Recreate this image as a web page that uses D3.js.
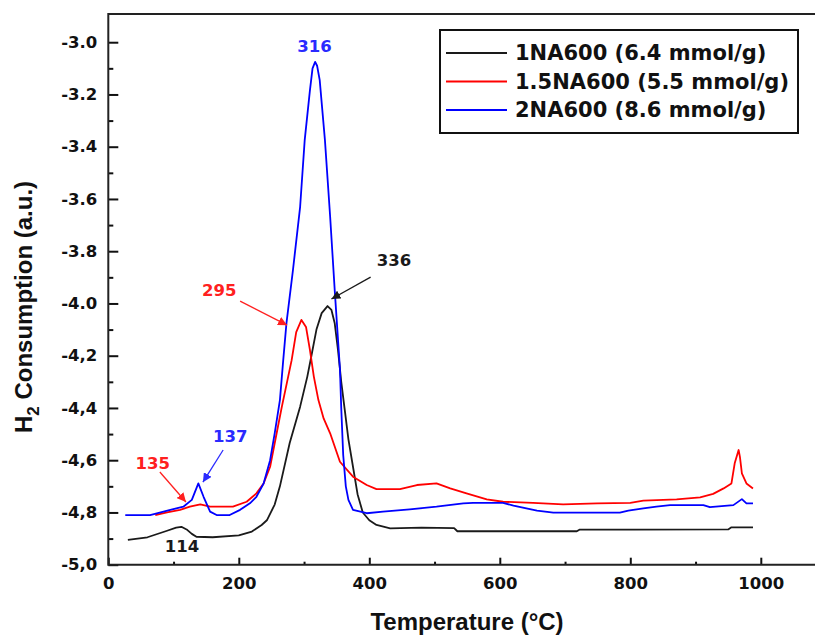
<!DOCTYPE html>
<html>
<head>
<meta charset="utf-8">
<script src="https://cdn.jsdelivr.net/npm/d3@7"></script>
<style>
  body { margin: 0; background: #fff; }
  svg { display: block; }
  .tick text { font-family: "DejaVu Sans", sans-serif; font-weight: bold; font-size: 16.5px; fill: #111; }
</style>
</head>
<body>
<svg id="chart" width="815" height="637"></svg>
<script>
// temperature (°C) / H2 consumption (a.u.)
const series1NA600 = [[30,-4.905],[60,-4.895],[89,-4.871],[104,-4.858],[112,-4.855],[120,-4.865],[128,-4.882],[135,-4.893],[160,-4.895],[200,-4.888],[220,-4.873],[235,-4.848],[243,-4.83],[255,-4.77],[263,-4.70],[278,-4.534],[294,-4.395],[305,-4.28],[311,-4.204],[319,-4.10],[327,-4.037],[336,-4.01],[342,-4.025],[347,-4.076],[352,-4.178],[357,-4.30],[362,-4.40],[368,-4.52],[375,-4.625],[382,-4.73],[390,-4.80],[400,-4.83],[411,-4.848],[432,-4.861],[480,-4.858],[530,-4.860],[535,-4.872],[600,-4.872],[718,-4.872],[722,-4.866],[800,-4.866],[950,-4.865],[955,-4.857],[988,-4.857]];

const series15NA600 = [[72,-4.81],[90,-4.80],[110,-4.79],[125,-4.778],[141,-4.769],[156,-4.778],[191,-4.778],[212,-4.759],[227,-4.727],[238,-4.689],[248,-4.625],[258,-4.497],[266,-4.395],[274,-4.30],[281,-4.217],[288,-4.11],[296,-4.063],[303,-4.09],[309,-4.178],[315,-4.28],[322,-4.37],[330,-4.44],[340,-4.497],[355,-4.606],[375,-4.663],[396,-4.695],[411,-4.711],[447,-4.711],[460,-4.703],[473,-4.695],[503,-4.689],[524,-4.708],[549,-4.727],[580,-4.75],[605,-4.759],[651,-4.763],[697,-4.769],[749,-4.765],[800,-4.763],[820,-4.755],[871,-4.75],[907,-4.742],[927,-4.729],[943,-4.708],[955,-4.689],[960,-4.612],[966,-4.561],[968,-4.587],[971,-4.65],[978,-4.689],[988,-4.708]];

const series2NA600 = [[26,-4.81],[64,-4.81],[95,-4.79],[115,-4.778],[128,-4.752],[138,-4.689],[146,-4.74],[156,-4.797],[166,-4.81],[186,-4.81],[202,-4.79],[217,-4.765],[227,-4.74],[238,-4.689],[248,-4.60],[255,-4.497],[263,-4.37],[268,-4.22],[273,-4.076],[283,-3.872],[294,-3.63],[301,-3.375],[309,-3.184],[313,-3.10],[317,-3.075],[320,-3.09],[324,-3.145],[332,-3.375],[340,-3.668],[347,-3.949],[351,-4.10],[355,-4.25],[357,-4.40],[360,-4.58],[364,-4.70],[368,-4.752],[375,-4.79],[396,-4.803],[421,-4.797],[462,-4.788],[503,-4.778],[544,-4.765],[559,-4.763],[605,-4.763],[621,-4.774],[657,-4.793],[682,-4.801],[784,-4.801],[797,-4.793],[820,-4.784],[840,-4.778],[861,-4.772],[912,-4.772],[922,-4.78],[958,-4.772],[971,-4.749],[978,-4.765],[988,-4.765]];

const seriesNames = ["1NA600 (6.4 mmol/g)", "1.5NA600 (5.5 mmol/g)", "2NA600 (8.6 mmol/g)"];
const seriesColors = ["#1a1a1a", "#ff0000", "#0000ff"];

const xTicks = [0, 200, 400, 600, 800, 1000];
const xMinor = [100, 300, 500, 700, 900];
const yTicks = [-3.0, -3.2, -3.4, -3.6, -3.8, -4.0, -4.2, -4.4, -4.6, -4.8, -5.0];
const yTickLabels = ["-3.0", "-3.2", "-3.4", "-3.6", "-3.8", "-4.0", "-4,2", "-4,4", "-4,6", "-4,8", "-5,0"];
const yMinor = [-3.1, -3.3, -3.5, -3.7, -3.9, -4.1, -4.3, -4.5, -4.7, -4.9];

// peak labels: text, label position, arrow start, arrow end (data units)
const peakLabels = [
  { text: "316", color: "#2a2aff", at: [316, -3.018] },
  { text: "336", color: "#1a1a1a", at: [438, -3.834], from: [402, -3.899], to: [342, -3.983] },
  { text: "295", color: "#ff2020", at: [170, -3.949], from: [202, -3.991], to: [274, -4.083] },
  { text: "135", color: "#ff2020", at: [68, -4.611], from: [79, -4.645], to: [119, -4.76] },
  { text: "137", color: "#2a2aff", at: [187, -4.511], from: [176, -4.561], to: [145, -4.684] },
  { text: "114", color: "#1a1a1a", at: [113, -4.932] }
];

const svg = d3.select("#chart");
const x = d3.scaleLinear().domain([0, 1080]).range([108.3, 813]);
const y = d3.scaleLinear().domain([-5, -2.892]).range([564.7, 14]);

// minor ticks
svg.append("g")
  .attr("transform", "translate(108.3,0)")
  .call(d3.axisLeft(y).tickValues(yMinor).tickSize(-5).tickFormat(""))
  .call(g => g.select(".domain").remove());
svg.append("g")
  .attr("transform", "translate(0,564.7)")
  .call(d3.axisBottom(x).tickValues(xMinor).tickSize(-3).tickFormat(""))
  .call(g => g.select(".domain").remove());

// major ticks
svg.append("g")
  .attr("transform", "translate(108.3,0)")
  .call(d3.axisLeft(y).tickValues(yTicks).tickSize(-10).tickPadding(11)
    .tickFormat((d, i) => yTickLabels[i]))
  .call(g => g.select(".domain").remove());
svg.append("g")
  .attr("transform", "translate(0,564.7)")
  .call(d3.axisBottom(x).tickValues(xTicks).tickSize(-7).tickPadding(13)
    .tickFormat(d3.format("d")))
  .call(g => g.select(".domain").remove());

svg.selectAll(".tick line").attr("stroke", "#111").attr("stroke-width", 2);

// frame (right side runs off the picture)
svg.append("path")
  .attr("d", `M830,${y(-2.892)}H${x(0)}V${y(-5)}H830`)
  .attr("fill", "none").attr("stroke", "#222").attr("stroke-width", 2);

// curves
const line = d3.line().x(d => x(d[0])).y(d => y(d[1]));
[series1NA600, series15NA600, series2NA600].forEach((s, i) => {
  svg.append("path").datum(s)
    .attr("d", line)
    .attr("fill", "none")
    .attr("stroke", seriesColors[i])
    .attr("stroke-width", 1.8)
    .attr("stroke-linejoin", "round");
});

// arrows
const defs = svg.append("defs");
peakLabels.forEach((p, i) => {
  defs.append("marker").attr("id", "arr" + i)
    .attr("viewBox", "0 0 10 10").attr("refX", 10).attr("refY", 5)
    .attr("markerWidth", 9).attr("markerHeight", 9).attr("markerUnits", "userSpaceOnUse")
    .attr("orient", "auto")
    .append("path").attr("d", "M0,0L10,5L0,10Z").attr("fill", p.color);
});
peakLabels.forEach((p, i) => {
  if (p.from) {
    svg.append("line")
      .attr("x1", x(p.from[0])).attr("y1", y(p.from[1]))
      .attr("x2", x(p.to[0])).attr("y2", y(p.to[1]))
      .attr("stroke", p.color).attr("stroke-width", 1.3)
      .attr("marker-end", `url(#arr${i})`);
  }
  svg.append("text")
    .attr("x", x(p.at[0])).attr("y", y(p.at[1]))
    .attr("text-anchor", "middle").attr("dominant-baseline", "central")
    .attr("font-family", "DejaVu Sans, sans-serif").attr("font-weight", "bold")
    .attr("font-size", 16.5).attr("fill", p.color)
    .text(p.text);
});

// legend
const lg = svg.append("g");
lg.append("rect").attr("x", 440).attr("y", 30).attr("width", 358).attr("height", 103)
  .attr("fill", "#fff").attr("stroke", "#111").attr("stroke-width", 2);
seriesNames.forEach((name, i) => {
  const ly = 53 + i * 28.5;
  lg.append("line").attr("x1", 446).attr("x2", 507).attr("y1", ly).attr("y2", ly)
    .attr("stroke", seriesColors[i]).attr("stroke-width", 2);
  lg.append("text").attr("x", 515).attr("y", ly).attr("dominant-baseline", "central")
    .attr("font-family", "DejaVu Sans, sans-serif").attr("font-weight", "bold")
    .attr("font-size", 21).attr("fill", "#111").text(name);
});

// axis titles
svg.append("text")
  .attr("x", 467).attr("y", 630)
  .attr("text-anchor", "middle")
  .attr("font-family", "Liberation Sans, Arial, sans-serif").attr("font-weight", "bold")
  .attr("font-size", 24).attr("fill", "#111")
  .text("Temperature (°C)");

const yt = svg.append("text")
  .attr("transform", "translate(32,307) rotate(-90)")
  .attr("text-anchor", "middle")
  .attr("font-family", "Liberation Sans, Arial, sans-serif").attr("font-weight", "bold")
  .attr("font-size", 24).attr("fill", "#111");
yt.append("tspan").text("H");
yt.append("tspan").attr("font-size", 17).attr("dy", 7).text("2");
yt.append("tspan").attr("dy", -7).text(" Consumption (a.u.)");
</script>
</body>
</html>
